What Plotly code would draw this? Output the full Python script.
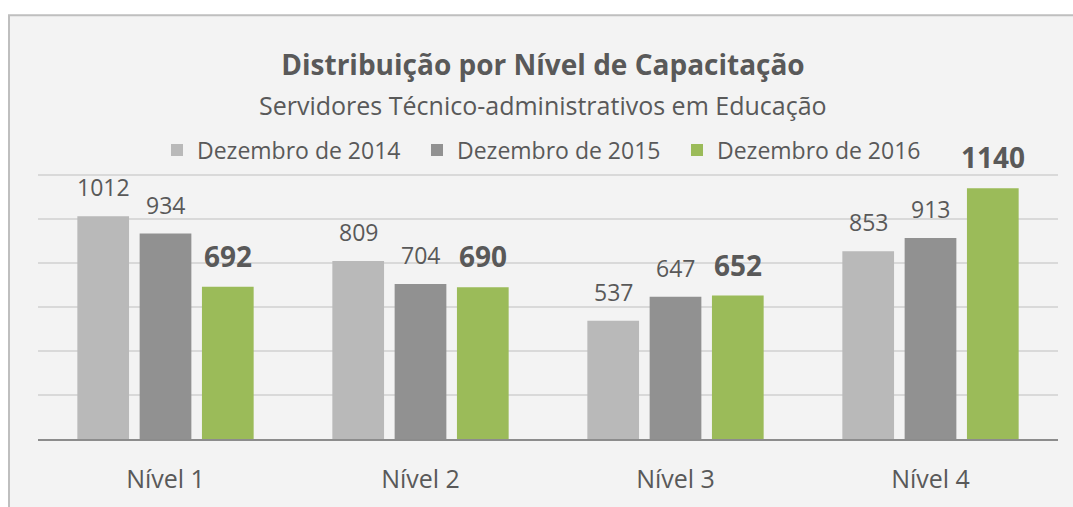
import plotly.graph_objects as go

categories = ["Nível 1", "Nível 2", "Nível 3", "Nível 4"]
series_names = ["Dezembro de 2014", "Dezembro de 2015", "Dezembro de 2016"]
values_2014 = [1012, 809, 537, 853]
values_2015 = [934, 704, 647, 913]
values_2016 = [692, 690, 652, 1140]
series_values = [values_2014, values_2015, values_2016]
series_colors = ["#b9b9b9", "#919191", "#9bbb59"]
label_bold = [False, False, True]
y_max, y_step = 1209, 200

TEXT = "#595959"
FONT = "Open Sans"
W, H = 1073, 507
ML, MR, MT, MB = 38, 15, 173, 66
BARGAP, BARGROUPGAP = 0.267, 0.17

fig = go.Figure()
for name, vals, col in zip(series_names, series_values, series_colors):
    fig.add_trace(go.Bar(x=categories, y=vals, name=name,
                         marker=dict(color=col, line=dict(width=0)),
                         hoverinfo="x+y+name"))

# data labels positioned via axis coordinates
slot = (1 - BARGAP) / len(series_names)
for si, (vals, bold) in enumerate(zip(series_values, label_bold)):
    off = (si - (len(series_names) - 1) / 2) * slot
    for ci, v in enumerate(vals):
        fig.add_annotation(
            x=ci + off, y=v, xref="x", yref="y",
            text=f"<b>{v}</b>" if bold else str(v),
            showarrow=False, xanchor="center", yanchor="bottom",
            yshift=10 if bold else 11,
            font=dict(family=FONT, size=28 if bold else 23, color=TEXT),
        )

pw = W - ML - MR
ph = H - MT - MB

def px_x(p):
    return (p - ML) / pw

def px_y(p):
    return (H - MB - p) / ph

# outer chart box (Excel-like chart area)
fig.add_shape(type="rect", xref="paper", yref="paper",
              x0=px_x(9), x1=px_x(1085), y0=px_y(520), y1=px_y(14),
              fillcolor="#f3f3f3", line=dict(color="#bfbfbf", width=2),
              layer="below")

fig.add_annotation(
    xref="paper", yref="paper", x=px_x(543), y=px_y(104),
    text="Servidores Técnico-administrativos em Educação",
    showarrow=False, xanchor="center", yanchor="middle",
    font=dict(family=FONT, size=25, color=TEXT),
)

fig.update_layout(
    width=W, height=H,
    margin=dict(l=ML, r=MR, t=MT, b=MB, pad=0),
    paper_bgcolor="white", plot_bgcolor="rgba(0,0,0,0)",
    barmode="group", bargap=BARGAP, bargroupgap=BARGROUPGAP,
    font=dict(family=FONT, color=TEXT),
    title=dict(text="<b>Distribuição por Nível de Capacitação</b>",
               x=543 / W, xanchor="center", xref="container",
               y=1 - 65 / H, yanchor="middle", yref="container",
               font=dict(family=FONT, size=28, color=TEXT)),
    showlegend=True,
    legend=dict(orientation="h", x=px_x(157), xanchor="left",
                y=px_y(150), yanchor="middle",
                font=dict(family=FONT, size=23, color=TEXT),
                bgcolor="rgba(0,0,0,0)", entrywidth=215, entrywidthmode="pixels",
                traceorder="normal"),
    xaxis=dict(showgrid=False, showline=True, linecolor="#8c8c8c", linewidth=2,
               ticks="", tickfont=dict(family=FONT, size=25, color=TEXT),
               ticklabelstandoff=17, range=[-0.5, 3.5], fixedrange=True),
    yaxis=dict(range=[0, y_max], tick0=0, dtick=y_step, showgrid=True,
               gridcolor="#d9d9d9", gridwidth=1.5, zeroline=False,
               showticklabels=False, showline=False, fixedrange=True),
)

fig.write_html("out.html", config={"displayModeBar": False},
               post_script="document.body.style.margin='0';document.body.style.overflow='hidden';")
